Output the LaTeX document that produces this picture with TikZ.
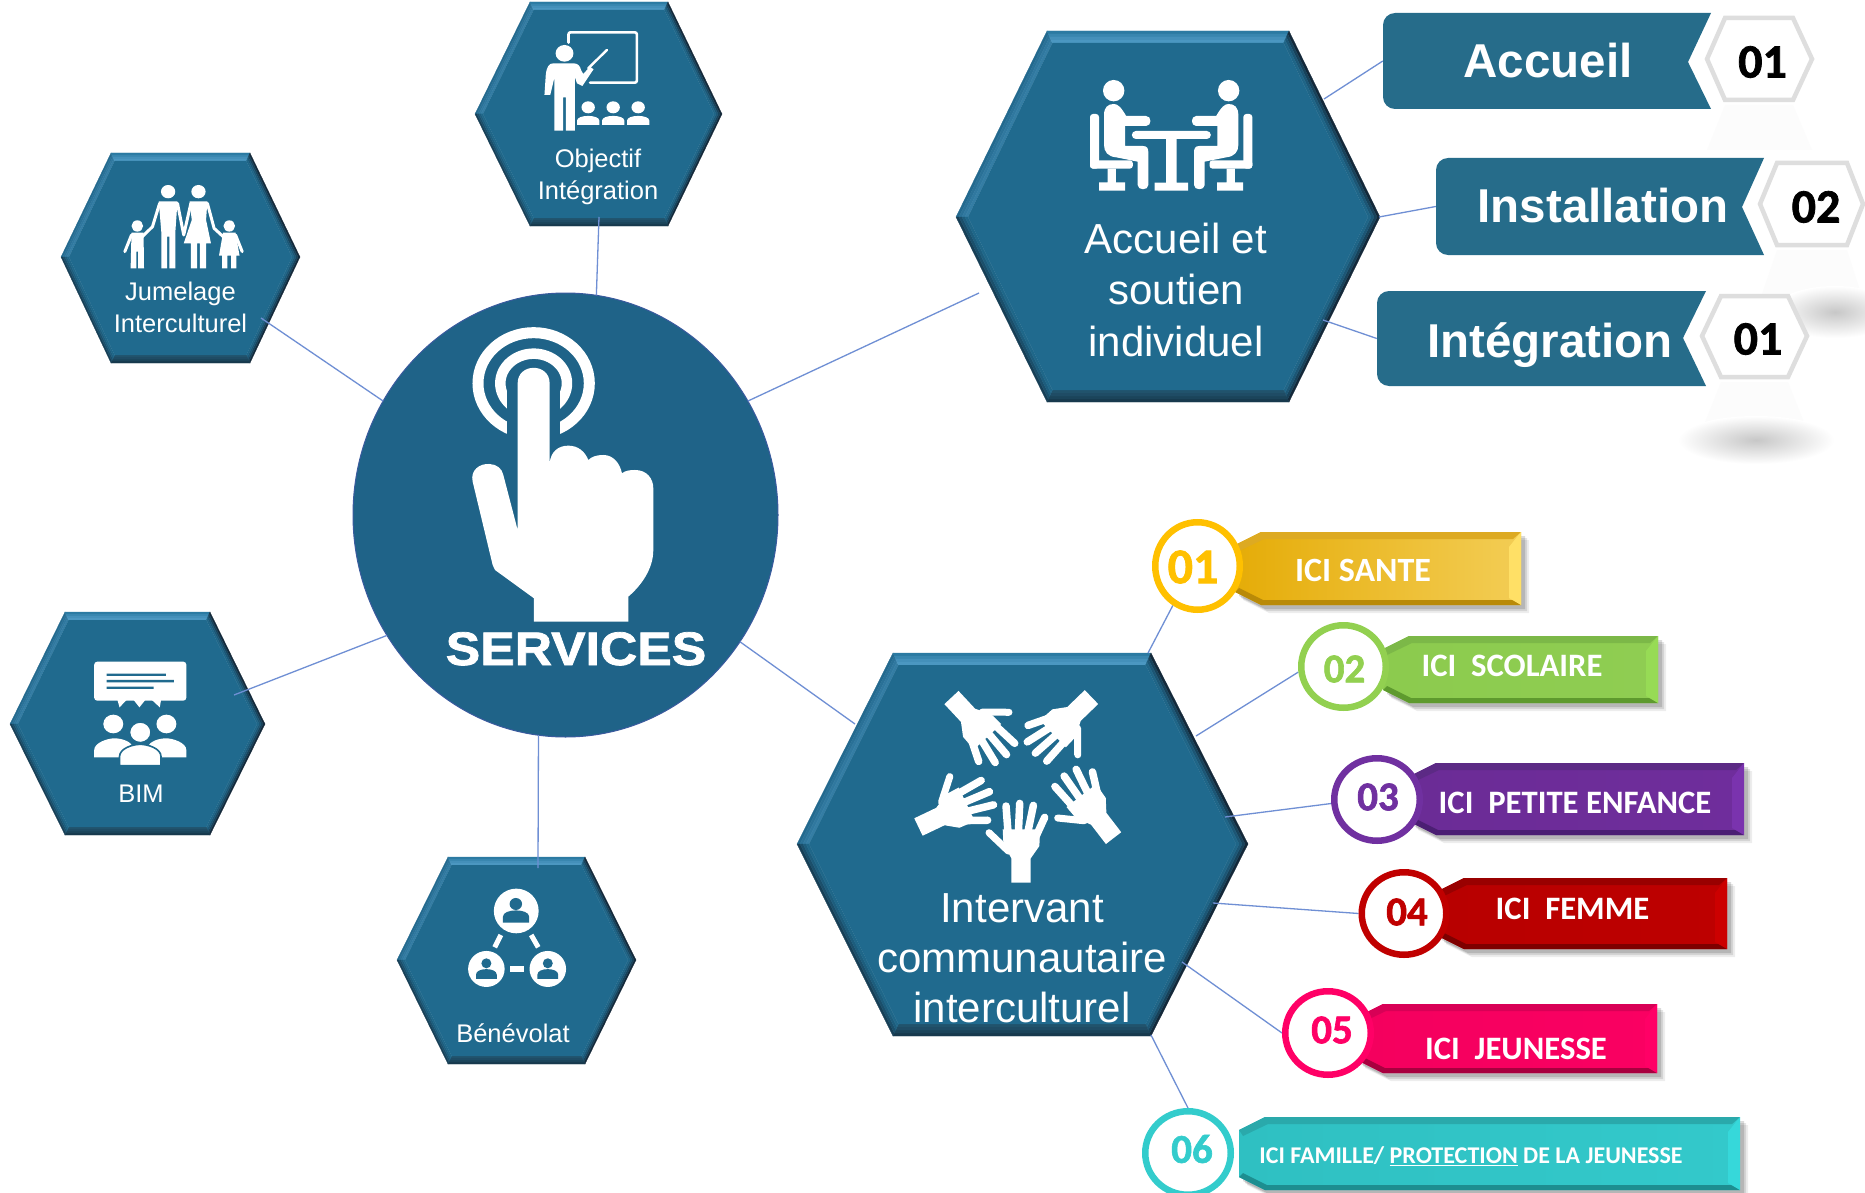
\documentclass[tikz,border=0pt]{standalone}
\usepackage{fontspec}
\setmainfont{Liberation Sans}
\newfontfamily\carl{Carlito}
\newfontfamily\digfont[UprightFont={* Bold},FakeBold=1.5]{Carlito}
\newfontfamily\svcfont[UprightFont={* Bold},FakeBold=1.6,FakeStretch=1.1]{Liberation Sans}
\usetikzlibrary{calc,shapes.geometric}
\definecolor{hexbase}{HTML}{206A8E}
\definecolor{svcblue}{HTML}{1F6388}
\definecolor{svcline}{HTML}{3A5A9E}
\definecolor{barblue}{HTML}{266C8A}
\definecolor{linkblue}{HTML}{6F8FD4}
\definecolor{FFC000col}{HTML}{FFC000}
\definecolor{green1col}{HTML}{92D050}
\definecolor{purple1col}{HTML}{7030A0}
\definecolor{red1col}{HTML}{C00000}
\definecolor{pink1col}{HTML}{FF0066}
\definecolor{teal1col}{HTML}{33CCCC}
\newcommand\fsz[1]{\fontsize{#1}{#1}\selectfont}
% L TL TR R top mid bot bevel
\newcommand\hexa[8]{%
  \coordinate (P1) at (#1,#6); \coordinate (P2) at (#2,#5); \coordinate (P3) at (#3,#5);
  \coordinate (P4) at (#4,#6); \coordinate (P5) at (#3,#7); \coordinate (P6) at (#2,#7);
  \coordinate (Q1) at ({#1+#8},#6); \coordinate (Q2) at ({#2+.45*#8},{#5+#8}); \coordinate (Q3) at ({#3-.45*#8},{#5+#8});
  \coordinate (Q4) at ({#4-#8},#6); \coordinate (Q5) at ({#3-.45*#8},{#7-#8}); \coordinate (Q6) at ({#2+.45*#8},{#7-#8});
  \foreach \a/\b/\co/\ci in {1/2/hexul/hexuli,2/3/hextop/hextopi,3/4/hexdk/hexbase,4/5/hexdk/hexbase,5/6/hexbot/hexboti,6/1/hexlow/hexbase}{
    \foreach \f/\g/\p in {0/.25/100,.25/.5/62,.5/.75/30,.75/1/8}{
      \fill[\co!\p!\ci,draw=\co!\p!\ci,line width=.25pt] ($(P\a)!\f!(Q\a)$) -- ($(P\b)!\f!(Q\b)$) -- ($(P\b)!\g!(Q\b)$) -- ($(P\a)!\g!(Q\a)$) -- cycle;
    }
  }
  \fill[hexbase] (Q1) -- (Q2) -- (Q3) -- (Q4) -- (Q5) -- (Q6) -- cycle;
}
\definecolor{hexul}{HTML}{23698E}\definecolor{hexuli}{HTML}{357FA6}
\definecolor{hextop}{HTML}{2B7AA2}\definecolor{hextopi}{HTML}{4E9AC4}
\definecolor{hexdk}{HTML}{14293A}
\definecolor{hexbot}{HTML}{17394D}\definecolor{hexboti}{HTML}{22556F}
\definecolor{hexlow}{HTML}{173F56}
% T top R bot | left right topband botband rightband
\newcommand\icibar[9]{%
  \definecolor{bL}{HTML}{#5}\definecolor{bR}{HTML}{#6}\definecolor{bT}{HTML}{#7}\definecolor{bB}{HTML}{#8}\definecolor{bS}{HTML}{#9}%
  \foreach \o/\q in {8/.07,6/.10,4/.14}{
    \fill[black,opacity=\q] ({#1-26+\o},{#2+13+\o}) -- ({#1+\o},{#2+\o}) -- ({#3+\o},{#2+\o}) -- ({#3+\o},{#4+\o}) -- ({#1+\o},{#4+\o}) -- ({#1-26+\o},{#4-13+\o}) -- cycle;
  }
  \shade[left color=bL,right color=bR] ({#1-26},{#2+13}) -- (#1,#2) -- (#3,#2) -- (#3,#4) -- (#1,#4) -- ({#1-26},{#4-13}) -- cycle;
  \fill[bT] ({#1-26},{#2+13}) -- (#1,#2) -- (#3,#2) -- ({#3-8},{#2+7}) -- ({#1+3},{#2+7}) -- ({#1-22},{#2+19}) -- cycle;
  \fill[bB] ({#1-26},{#4-13}) -- (#1,#4) -- (#3,#4) -- ({#3-6},{#4-5}) -- ({#1+2},{#4-5}) -- ({#1-22},{#4-17}) -- cycle;
  \fill[bS] (#3,#2) -- (#3,#4) -- ({#3-12},{#4-7}) -- ({#3-12},{#2+15}) -- cycle;
}
% one hand, fingers up, origin at the middle of the wrist end
\newcommand\onehand{%
  \fill[white] (-28,0) -- (30,0) -- (30,-73) -- (56,-110) -- (58,-160) -- (-54,-160) -- (-52,-118) -- (-28,-73) -- cycle;
  \draw[white,line width=7.5pt,line cap=round] (44,-135) -- (72,-196);
  \draw[white,line width=7.5pt,line cap=round] (21,-150) -- (38,-232);
  \draw[white,line width=7.5pt,line cap=round] (-7,-150) -- (-3,-238);
  \draw[white,line width=7.5pt,line cap=round] (-38,-150) -- (-44,-230);
  \draw[white,line width=7pt,line cap=round] (-37,-95) -- (-95,-150);
}
\tikzset{
  link/.style={linkblue,line width=1.3pt},
  hextext/.style={white,align=center,inner sep=0pt,font=\fsz{42}},
  smalltext/.style={white,align=center,inner sep=0pt,font=\fsz{25.5}},
  bartitle/.style={white,inner sep=0pt,font=\fsz{47.5}\bfseries,anchor=base},
  ici/.style={white,inner sep=0pt,font=\carl\bfseries\fsz{32.7}},
  ring/.style={ellipse,fill=white,line width=6.5pt,inner sep=0pt,outer sep=0pt},
  ringnum/.style={inner sep=0pt,font=\digfont\fsz{41}},
  whitenum/.style={inner sep=0pt,black,font=\digfont\fsz{48}},
  blankbar/.style={inner sep=0pt,minimum height=96pt},
  smallhex/.style={fill=white,draw=black!13,line width=4.5pt,line join=miter}
}
\begin{document}
\begin{tikzpicture}[x=1pt,y=-1pt]
\path[use as bounding box,fill=white] (0,0) rectangle (1865,1193);

%--- reflections behind the number hexagons
\fill[black!1] (1725,105) -- (1793,105) -- (1812,150) -- (1707,150) -- cycle;
\fill[black!1] (1777,250) -- (1847,250) -- (1863,300) -- (1760,300) -- cycle;
\fill[black!1] (1721,382) -- (1788,382) -- (1807,430) -- (1702,430) -- cycle;
\shade[inner color=black!22,outer color=white,draw=none] (1835,312) ellipse [x radius=62,y radius=26];
\shade[inner color=black!22,outer color=white,draw=none] (1756,440) ellipse [x radius=78,y radius=24];

%--- hexagons
\hexa{956}{1047}{1289}{1380}{31}{217}{402}{12}
\hexa{797}{893}{1151}{1248}{653}{844}{1036}{12}
\hexa{475}{530}{668}{722}{2}{114}{226}{8}
\hexa{61}{111}{250}{300}{153}{257}{363}{8}
\hexa{10}{65}{210}{265}{612}{724}{835}{8}
\hexa{397}{448}{585}{636}{857}{960}{1064}{8}

%--- central circle
\node[ellipse,fill=svcblue,draw=svcline,line width=1pt,minimum width=425pt,minimum height=444pt,inner sep=0pt,outer sep=0pt] (svc) at (565.5,515) {};

%--- free connector ends, on the hexagons
\coordinate (objEnd) at (599,217);
\coordinate (jumEnd) at (261,318);
\coordinate (bimEnd) at (234,695);
\coordinate (benEnd) at (538,868);
\coordinate (accIn) at (979,293);
\coordinate (intIn) at (855,724);
\coordinate (accA) at (1324,99);
\coordinate (accB) at (1379,217);
\coordinate (accC) at (1323,320);
\coordinate (int1) at (1148,653);
\coordinate (int2) at (1196,736);
\coordinate (int3) at (1225,817);
\coordinate (int4) at (1213,903);
\coordinate (int5) at (1182,962);
\coordinate (int6) at (1151,1035);

%--- bar and ring nodes
\node[blankbar,minimum width=328pt] (barA) at (1547,61) {};
\node[blankbar,minimum width=328pt] (barB) at (1600,206.5) {};
\node[blankbar,minimum width=329pt] (barC) at (1541.5,338.5) {};
\node[ellipse,minimum width=91pt,minimum height=94pt,inner sep=0pt,outer sep=0pt] (r1) at (1197.5,566) {};
\node[ellipse,minimum width=91pt,minimum height=89pt,inner sep=0pt,outer sep=0pt] (r2) at (1343.5,666.5) {};
\node[ellipse,minimum width=92pt,minimum height=89pt,inner sep=0pt,outer sep=0pt] (r3) at (1377,799.5) {};
\node[ellipse,minimum width=91pt,minimum height=89pt,inner sep=0pt,outer sep=0pt] (r4) at (1404,913.5) {};
\node[ellipse,minimum width=92pt,minimum height=90pt,inner sep=0pt,outer sep=0pt] (r5) at (1328,1033) {};
\node[ellipse,minimum width=92pt,minimum height=90pt,inner sep=0pt,outer sep=0pt] (r6) at (1188,1153) {};

%--- connectors
\draw[link] (svc.82) -- (objEnd);
\draw[link] (svc.148) -- (jumEnd);
\draw[link] (svc.214) -- (bimEnd);
\draw[link] (svc.263) -- (benEnd);
\draw[link] (svc.32) -- (accIn);
\draw[link] (svc.-36.6) -- (intIn);
\draw[link] (accA) -- (barA.west);
\draw[link] (accB) -- (barB.west);
\draw[link] (accC) -- (barC.west);
\draw[link] (int1) -- (r1.238);
\draw[link] (int2) -- (r2.187);
\draw[link] (int3) -- (r3.185);
\draw[link] (int4) -- (r4.180);
\draw[link] (int5) -- (r5.180);
\draw[link] (int6) -- (r6.90);

%--- top right bars
\fill[barblue] (1711,13) [rounded corners=12pt] -- (1383,13) -- (1383,109) [sharp corners] -- (1711,109) -- (1688,62) -- cycle;
\fill[barblue] (1764,158) [rounded corners=12pt] -- (1436,158) -- (1436,255) [sharp corners] -- (1764,255) -- (1742,207) -- cycle;
\fill[barblue] (1706,291) [rounded corners=12pt] -- (1377,291) -- (1377,386) [sharp corners] -- (1706,386) -- (1683,338) -- cycle;
\path[smallhex] (1707,59) -- (1725,18) -- (1793,18) -- (1812,59) -- (1793,100) -- (1725,100) -- cycle;
\path[smallhex] (1760,204) -- (1777,163) -- (1847,163) -- (1863,204) -- (1847,245) -- (1777,245) -- cycle;
\path[smallhex] (1702,336) -- (1721,296) -- (1788,296) -- (1807,336) -- (1788,377) -- (1721,377) -- cycle;
\node[bartitle] (tAccueil) at (1548,77.5) {Accueil};
\node[bartitle] (tInstall) at (1603,222.5) {Installation};
\node[bartitle] (tInteg) at (1550,357) {Intégration};
\node[whitenum] (nA) at (1762.5,62) {01};
\node[whitenum] (nB) at (1816,207) {02};
\node[whitenum] (nC) at (1758,339) {01};

%--- ICI bars
\icibar{1261}{532}{1521}{605}{E5AC08}{F3CD55}{DDAA22}{B98A08}{FFE066}
\icibar{1409}{636}{1658}{703}{8CCB4E}{8FCD52}{7CB848}{5E9A2E}{97DB55}
\icibar{1436}{763}{1744}{835}{6B2C96}{6F2D9C}{5C2A85}{4B1F73}{7A33AE}
\icibar{1464}{878}{1727}{949}{B80000}{BD0000}{990000}{7E0000}{CC0000}
\icibar{1383}{1004}{1657}{1073}{F4005E}{FA0062}{D80056}{A8003F}{FF0066}
\icibar{1265}{1117}{1740}{1190}{2FC0C2}{33C9CB}{2AA9AB}{1D8E90}{36D8DA}
\node[ring,draw=FFC000col,minimum width=84.5pt,minimum height=87.5pt] (c1) at (r1) {};
\node[ring,draw=green1col,minimum width=84.5pt,minimum height=82.5pt] (c2) at (r2) {};
\node[ring,draw=purple1col,minimum width=85.5pt,minimum height=82.5pt] (c3) at (r3) {};
\node[ring,draw=red1col,minimum width=84.5pt,minimum height=82.5pt] (c4) at (r4) {};
\node[ring,draw=pink1col,minimum width=85.5pt,minimum height=83.5pt] (c5) at (r5) {};
\node[ring,draw=teal1col,minimum width=85.5pt,minimum height=83.5pt] (c6) at (r6) {};
\node[ringnum,FFC000col,font=\digfont\fsz{50}] (d1) at (1193,567) {01};
\node[ringnum,green1col] (d2) at (1344.5,669) {02};
\node[ringnum,purple1col] (d3) at (1378,797) {03};
\node[ringnum,red1col] (d4) at (1407,912) {04};
\node[ringnum,pink1col] (d5) at (1332,1030) {05};
\node[ringnum,teal1col] (d6) at (1192,1149) {06};
\node[ici,font=\carl\bfseries\fsz{34}] (i1) at (1363,570) {ICI SANTE};
\node[ici] (i2) at (1512,665.5) {ICI\ \ SCOLAIRE};
\node[ici] (i3) at (1575,803) {ICI\ \ PETITE ENFANCE};
\node[ici] (i4) at (1572.5,908.5) {ICI\ \ FEMME};
\node[ici] (i5) at (1516,1049) {ICI\ \ JEUNESSE};
\node[ici,font=\carl\bfseries\fsz{24}] (i6) at (1471,1156) {ICI FAMILLE/ \underline{PROTECTION} DE LA JEUNESSE};

%--- hexagon captions
\node[hextext] (tAcc) at (1176,289.5) {Accueil et\\[9.5pt]soutien\\[9.5pt]individuel};
\node[hextext] (tInt) at (1022,958) {Intervant\\[8pt]communautaire\\[8pt]interculturel};
\node[smalltext] (tObj) at (598,177) {Objectif\\[6.5pt]Intégration};
\node[smalltext] (tJum) at (180.5,307.5) {Jumelage\\[6.5pt]Interculturel};
\node[smalltext,anchor=base] (tBim) at (141,802) {BIM};
\node[smalltext,anchor=base] (tBen) at (513,1042) {Bénévolat};

%--- SERVICES hand
\node[white,inner sep=0pt,anchor=base,font=\svcfont\fsz{47}] (tSvc) at (576,665) {SERVICES};
\begin{scope}[shift={(340pt,-280pt)},x=.3333pt,y=-.3333pt]
  \draw[white,line width=11pt] (581,310) ellipse [x radius=167,y radius=152];
  \draw[white,line width=10.5pt] (581,310) ellipse [x radius=100,y radius=89];
  \fill[svcblue] (500,322) rectangle (660,500);
  \fill[white] (533,750) -- (533,310) .. controls (533,248) and (629,248) .. (629,310) -- (629,550)
    .. controls (632,515) and (655,497) .. (685,497) .. controls (715,497) and (735,515) .. (745,540)
    .. controls (755,530) and (770,525) .. (790,525) .. controls (820,525) and (840,550) .. (846,580)
    .. controls (855,572) and (870,570) .. (885,570) .. controls (920,570) and (940,595) .. (940,625)
    -- (940,810) .. controls (940,870) and (900,920) .. (865,950) -- (865,1025) -- (582,1025) -- (582,955)
    -- (465,870) -- (458,855) -- (398,605) .. controls (390,570) and (420,550) .. (448,552)
    .. controls (470,553) and (486,565) .. (490,585) -- cycle;
\end{scope}

%--- meeting icon
\begin{scope}[shift={(1171.17pt,-20pt)},x=.3333pt,y=-.3333pt]
  \fill[white,rounded corners=4pt] (-118,333) rectangle (119,357);
  \fill[white] (-15,357) rectangle (16,490) (-50,488) rectangle (51,512);
  \foreach \sx in {.3333,-.3333}{
  \begin{scope}[x=\sx pt]
    \fill[white] (-172.5,212) circle [radius=10.7pt];
    \fill[white] (-201.5,285) .. controls (-201.5,262) and (-190,252) .. (-172,252) .. controls (-160,252) and (-150,262) .. (-135,288) -- (-75,288) .. controls (-58,288) and (-58,318) .. (-75,318) -- (-138.5,318) -- (-138.5,378) -- (-85,378) .. controls (-72,378) and (-68,385) .. (-68.5,400) -- (-68.5,495) .. controls (-68.5,512) and (-100.5,512) .. (-100.5,495) -- (-100.5,425) -- (-165,412) .. controls (-190,410) and (-201.5,395) .. (-201.5,375) -- cycle;
    \fill[white,rounded corners=3pt] (-243.5,282) rectangle (-216.5,446);
    \fill[white,rounded corners=3pt] (-243.5,421) rectangle (-115,446);
    \fill[white] (-191,446) rectangle (-166,490) (-216,487) rectangle (-138,512);
  \end{scope}}
\end{scope}

%--- hands icon
\foreach \hx/\hy/\ang in {1020.7/882.7/0,1113.3/838.3/37.6,1091.7/697.3/134,951.7/697.3/223,918.3/826.7/295.5}{
\begin{scope}[shift={(\hx pt,-\hy pt)},rotate=\ang,x=.3333pt,y=-.3333pt]
  \onehand
\end{scope}}

%--- teacher and family icons
\begin{scope}[shift={(40pt,0pt)},x=.4464pt,y=-.3333pt]
  \draw[white,line width=2.6pt,rounded corners=2pt,line cap=round] (1184,128) -- (1184,97) -- (1337,97) -- (1337,248) -- (1232,248);
  \fill[white] (1175,160) ellipse [x radius=20,y radius=25];
  \fill[white] (1150,190) -- (1195,190) .. controls (1205,190) and (1210,198) .. (1212,210) -- (1217,222) -- (1232,200) -- (1240,208) -- (1215,258) -- (1203,250) -- (1198,230) -- (1198,392) -- (1178,392) -- (1178,292) -- (1172,292) -- (1172,392) -- (1152,392) -- (1152,235) -- (1143,285) -- (1130,285) -- (1133,225) .. controls (1135,200) and (1140,190) .. (1150,190) -- cycle;
  \draw[white,line width=2.4pt,line cap=round] (1228,205) -- (1270,150);
  \foreach \x in {1228,1284,1340}{
    \fill[white] (\x,322) ellipse [x radius=15,y radius=18];
    \fill[white] ({\x-25},375) -- ({\x-25},362) .. controls ({\x-25},343) and ({\x+25},343) .. ({\x+25},362) -- ({\x+25},375) -- cycle;
  }
  % family
  \fill[white] (287,575) ellipse [x radius=16,y radius=20];
  \fill[white] (355,575) ellipse [x radius=16,y radius=20];
  \fill[white] (218,678) ellipse [x radius=13,y radius=17];
  \fill[white] (424,678) ellipse [x radius=13,y radius=17];
  \fill[white] (266,604) -- (308,604) -- (303,700) -- (303,805) -- (290,805) -- (290,710) -- (285,710) -- (285,805) -- (272,805) -- (272,700) -- cycle;
  \fill[white] (335,604) -- (375,604) -- (372,660) -- (383,730) -- (372,730) -- (372,805) -- (358,805) -- (358,730) -- (352,730) -- (352,805) -- (338,805) -- (338,730) -- (322,730) -- (340,660) -- cycle;
  \fill[white] (205,698) -- (232,698) -- (233,805) -- (220,805) -- (220,755) -- (216,755) -- (216,805) -- (203,805) -- cycle;
  \fill[white] (410,698) -- (438,698) -- (447,767) -- (440,767) -- (440,805) -- (428,805) -- (428,767) -- (420,767) -- (420,805) -- (408,805) -- (408,767) -- (401,767) -- cycle;
  \draw[white,line width=3pt,line join=round,line cap=round] (268,610) -- (252,680) -- (228,712);
  \draw[white,line width=3pt,line join=round,line cap=round] (308,610) -- (322,705) -- (338,610);
  \draw[white,line width=3pt,line join=round,line cap=round] (375,610) -- (390,685) -- (412,712);
  \draw[white,line width=3pt,line join=round,line cap=round] (205,705) -- (190,755);
  \draw[white,line width=3pt,line join=round,line cap=round] (438,705) -- (453,755);
\end{scope}

%--- BIM and Benevolat icons
\begin{scope}[shift={(0pt,-600pt)},x=.415pt,y=-.3333pt]
  \fill[white,rounded corners=3pt] (227,185) rectangle (449,302);
  \fill[white] (283,300) -- (305,300) -- (288,322) -- cycle (322,300) -- (350,300) -- (336,322) -- cycle (366,300) -- (388,300) -- (385,322) -- cycle;
  \fill[hexbase] (257,221) rectangle (400,228) (257,240) rectangle (419,247) (257,260) rectangle (370,267);
  \fill[white] (273,372) ellipse [x radius=24,y radius=28];
  \fill[white] (401,372) ellipse [x radius=24,y radius=28];
  \fill[white] (227,472) -- (227,450) .. controls (227,428) and (260,415) .. (275,415) .. controls (295,415) and (315,425) .. (320,440) -- (300,472) -- cycle;
  \fill[white] (449,472) -- (449,450) .. controls (449,428) and (416,415) .. (401,415) .. controls (381,415) and (361,425) .. (356,440) -- (376,472) -- cycle;
  \fill[white,draw=hexbase,line width=1.6pt] (338,397) ellipse [x radius=26,y radius=31];
  \fill[white,draw=hexbase,line width=1.6pt] (288,497) -- (288,470) .. controls (288,445) and (320,433) .. (338,433) .. controls (356,433) and (388,445) .. (388,470) -- (388,497) -- cycle;
  % Benevolat
  \fill[white] (1244,933) ellipse [x radius=54,y radius=67];
  \fill[white] (1172,1107) ellipse [x radius=44,y radius=54];
  \fill[white] (1320,1107) ellipse [x radius=44,y radius=54];
  \fill[hexbase] (1243,912) ellipse [x radius=15,y radius=18];
  \fill[hexbase] (1212,968) -- (1212,950) .. controls (1212,925) and (1275,925) .. (1275,950) -- (1275,968) -- cycle;
  \foreach \x in {1172,1320}{
    \fill[hexbase] (\x,1090) ellipse [x radius=12,y radius=15];
    \fill[hexbase] ({\x-25},1137) -- ({\x-25},1124) .. controls ({\x-25},1102) and ({\x+25},1102) .. ({\x+25},1124) -- ({\x+25},1137) -- cycle;
  }
  \draw[white,line width=5pt] (1207,1005) -- (1192,1042);
  \draw[white,line width=5pt] (1280,1005) -- (1297,1042);
  \draw[white,line width=6pt] (1229,1108) -- (1263,1108);
\end{scope}
\end{tikzpicture}
\end{document}
